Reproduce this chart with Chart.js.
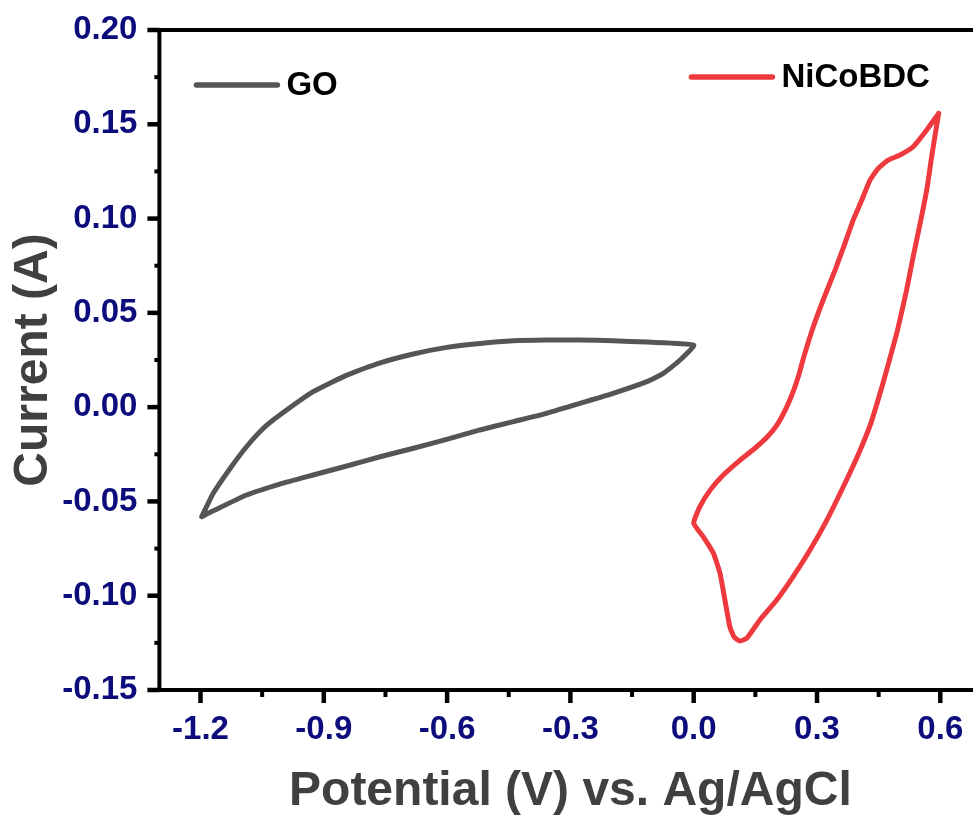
<!DOCTYPE html>
<html>
<head>
<meta charset="utf-8">
<title>Cyclic voltammetry: GO and NiCoBDC</title>
<script src="https://cdn.jsdelivr.net/npm/chart.js@4.4.1/dist/chart.umd.min.js"></script>
<style>
  html, body { margin: 0; padding: 0; background: #ffffff; overflow: hidden; }
  #wrap { position: relative; width: 990px; height: 823px; }
</style>
</head>
<body>
<div id="wrap"><canvas id="cv"></canvas></div>
<script>
// GO loop: anodic branch from the -1.2 V vertex up to 0 V, then cathodic branch back
const goPotential = [
  -1.197, -1.169, -1.128, -1.088, -1.047, -1.007, -0.926, -0.844, -0.763, -0.682,
  -0.601, -0.520, -0.439, -0.358, -0.277, -0.196, -0.114, 0.000,
  -0.033, -0.074, -0.114, -0.196, -0.277, -0.358, -0.439, -0.520, -0.601, -0.682,
  -0.763, -0.844, -0.926, -1.007, -1.088, -1.169, -1.197
];
const goCurrent = [
  -0.0581, -0.0457, -0.0325, -0.0210, -0.0112, -0.0042, 0.0082, 0.0170, 0.0235, 0.0282,
  0.0317, 0.0338, 0.0352, 0.0356, 0.0356, 0.0352, 0.0345, 0.0329,
  0.0250, 0.0179, 0.0135, 0.0073, 0.0020, -0.0033, -0.0077, -0.0121, -0.0171, -0.0218,
  -0.0263, -0.0312, -0.0360, -0.0408, -0.0466, -0.0550, -0.0581
];

// NiCoBDC loop: from the 0.6 V vertex down the left branch to 0 V, through the
// cathodic minimum and back up to 0.6 V
const nicoPotential = [
  0.596, 0.567, 0.534, 0.502, 0.473, 0.449, 0.429, 0.409, 0.388, 0.368,
  0.344, 0.315, 0.291, 0.267, 0.255, 0.240, 0.223, 0.204, 0.180, 0.149,
  0.113, 0.072, 0.040, 0.015, 0.000,
  0.023, 0.048, 0.064, 0.076, 0.088, 0.098, 0.112, 0.129, 0.161, 0.202,
  0.242, 0.283, 0.324, 0.364, 0.398, 0.431, 0.457, 0.475, 0.496, 0.518,
  0.534, 0.551, 0.567, 0.579, 0.588, 0.596
];
const nicoCurrent = [
  0.1558, 0.1470, 0.1381, 0.1337, 0.1310, 0.1266, 0.1204, 0.1098, 0.0992, 0.0869,
  0.0727, 0.0568, 0.0426, 0.0260, 0.0165, 0.0070, -0.0015, -0.0090, -0.0156, -0.0218,
  -0.0281, -0.0360, -0.0440, -0.0528, -0.0616,
  -0.0687, -0.0775, -0.0881, -0.1023, -0.1165, -0.1218, -0.1240, -0.1226, -0.1129, -0.1023,
  -0.0899, -0.0758, -0.0599, -0.0422, -0.0263, -0.0086, 0.0100, 0.0240, 0.0409, 0.0621,
  0.0798, 0.0975, 0.1151, 0.1328, 0.1452, 0.1558
];

const xTicks = [-1.2, -0.9, -0.6, -0.3, 0.0, 0.3, 0.6];
const xMinorTicks = [-1.05, -0.75, -0.45, -0.15, 0.15, 0.45];
const yTicks = [-0.15, -0.10, -0.05, 0.00, 0.05, 0.10, 0.15, 0.20];
const yMinorTicks = [-0.125, -0.075, -0.025, 0.025, 0.075, 0.125, 0.175];

const seriesNames = ['GO', 'NiCoBDC'];
const seriesColors = ['#555555', '#ee3a3e'];

const toPoints = (xs, ys) => xs.map((v, i) => ({ x: v, y: ys[i] }));

const FONT = "'Liberation Sans', Arial, Helvetica, sans-serif";
const TICK_COLOR = '#0c0c7c';
const TITLE_COLOR = '#404040';

// Heavy black frame with outward major/minor ticks
const framePlugin = {
  id: 'frame',
  afterDraw(chart) {
    const { ctx, chartArea: a, scales: { x, y } } = chart;
    ctx.save();
    ctx.strokeStyle = '#000';
    ctx.lineWidth = 4;
    ctx.lineJoin = 'miter';
    ctx.strokeRect(a.left, a.top, a.right - a.left, a.bottom - a.top);
    ctx.lineCap = 'butt';
    const tick = (x1, y1, x2, y2, w) => {
      ctx.lineWidth = w;
      ctx.beginPath();
      ctx.moveTo(x1, y1);
      ctx.lineTo(x2, y2);
      ctx.stroke();
    };
    xTicks.forEach(v => { const px = x.getPixelForValue(v); tick(px, a.bottom, px, a.bottom + 13, 4.5); });
    xMinorTicks.forEach(v => { const px = x.getPixelForValue(v); tick(px, a.bottom, px, a.bottom + 7, 4); });
    yTicks.forEach(v => { const py = y.getPixelForValue(v); tick(a.left, py, a.left - 12, py, 4.5); });
    yMinorTicks.forEach(v => { const py = y.getPixelForValue(v); tick(a.left, py, a.left - 5, py, 4); });
    ctx.restore();
  }
};

// Two separate legend entries, one in each upper corner of the plot
const legendPlugin = {
  id: 'cornerLegend',
  afterDraw(chart) {
    const { ctx, chartArea: a } = chart;
    const entries = [
      { name: seriesNames[0], color: seriesColors[0], x0: a.left + 37, y: a.top + 55 },
      { name: seriesNames[1], color: seriesColors[1], x0: a.left + 532, y: a.top + 47 }
    ];
    ctx.save();
    ctx.font = `bold 33px ${FONT}`;
    ctx.textBaseline = 'middle';
    ctx.textAlign = 'left';
    entries.forEach(e => {
      ctx.strokeStyle = e.color;
      ctx.lineWidth = 5.5;
      ctx.lineCap = 'round';
      ctx.beginPath();
      ctx.moveTo(e.x0, e.y);
      ctx.lineTo(e.x0 + 81, e.y);
      ctx.stroke();
      ctx.fillStyle = '#000';
      ctx.fillText(e.name, e.x0 + 90, e.y + 1);
    });
    ctx.restore();
  }
};

new Chart(document.getElementById('cv'), {
  type: 'scatter',
  data: {
    datasets: [
      {
        label: seriesNames[0],
        data: toPoints(goPotential, goCurrent),
        showLine: true,
        borderColor: seriesColors[0],
        borderWidth: 5,
        pointRadius: 0,
        tension: 0.15,
        borderJoinStyle: 'round',
        borderCapStyle: 'round'
      },
      {
        label: seriesNames[1],
        data: toPoints(nicoPotential, nicoCurrent),
        showLine: true,
        borderColor: seriesColors[1],
        borderWidth: 5,
        pointRadius: 0,
        tension: 0.15,
        borderJoinStyle: 'round',
        borderCapStyle: 'round'
      }
    ]
  },
  options: {
    responsive: true,
    maintainAspectRatio: false,
    animation: false,
    devicePixelRatio: 1,
    layout: { padding: { left: 0, top: 30, right: 8.6, bottom: 0 } },
    plugins: {
      legend: { display: false },
      tooltip: { enabled: false }
    },
    scales: {
      x: {
        type: 'linear',
        min: -1.3,
        max: 0.7,
        afterBuildTicks: s => { s.ticks = xTicks.map(v => ({ value: v })); },
        afterFit: s => { s.height = 133; s.paddingLeft = 0; s.paddingRight = 0; },
        grid: { display: false, drawTicks: false },
        border: { display: false },
        ticks: {
          autoSkip: false,
          maxRotation: 0,
          padding: 20,
          color: TICK_COLOR,
          font: { family: FONT, size: 33, weight: 'bold' },
          callback: v => Number(v).toFixed(1)
        },
        title: {
          display: true,
          text: 'Potential (V) vs. Ag/AgCl',
          color: TITLE_COLOR,
          font: { family: FONT, size: 48, weight: 'bold', lineHeight: 1.2 },
          padding: { top: 0, bottom: 2 }
        }
      },
      y: {
        type: 'linear',
        min: -0.15,
        max: 0.20,
        afterBuildTicks: s => { s.ticks = yTicks.map(v => ({ value: v })); },
        afterFit: s => { s.width = 159.4; s.paddingTop = 0; s.paddingBottom = 0; },
        grid: { display: false, drawTicks: false },
        border: { display: false },
        ticks: {
          autoSkip: false,
          padding: 22,
          color: TICK_COLOR,
          font: { family: FONT, size: 33, weight: 'bold' },
          callback: v => Number(v).toFixed(2)
        },
        title: {
          display: true,
          text: 'Current (A)',
          color: TITLE_COLOR,
          font: { family: FONT, size: 48, weight: 'bold', lineHeight: 1.2 },
          padding: { top: 5, bottom: 0 }
        }
      }
    }
  },
  plugins: [framePlugin, legendPlugin]
});
</script>
</body>
</html>
